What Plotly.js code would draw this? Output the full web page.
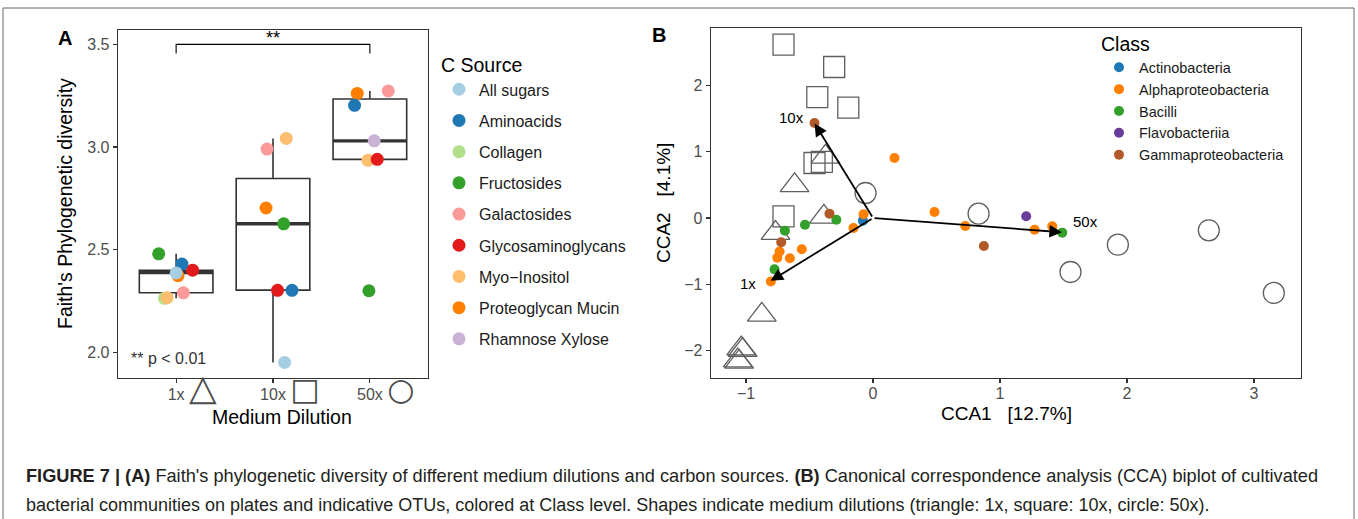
<!DOCTYPE html>
<html><head><meta charset="utf-8">
<script src="https://cdn.plot.ly/plotly-3.0.1.min.js"></script>
<style>html,body{margin:0;padding:0;background:#fff;} #chart{width:1358px;height:519px;}</style>
</head><body><div id="chart"></div>
<script>
const W = 1358, H = 519;

// ---------- Panel A data ----------
const dilutions = ['1x', '10x', '50x'];
const dilutionGlyphs = ['\u25B3', '\u25A1', '\u25CB'];
const cSources = ['All sugars', 'Aminoacids', 'Collagen', 'Fructosides', 'Galactosides',
  'Glycosaminoglycans', 'Myo\u2212Inositol', 'Proteoglycan Mucin', 'Rhamnose Xylose'];
const cSourceColors = ['#A6CEE3', '#1F78B4', '#B2DF8A', '#33A02C', '#FB9A99',
  '#E31A1C', '#FDBF6F', '#FF7F00', '#CAB2D6'];
// one entry per plate: dilution index, C source index, Faith's PD, horizontal jitter
const ptDilution = [0, 0, 0, 0, 0, 0, 0, 0, 1, 1, 1, 1, 1, 1, 1, 2, 2, 2, 2, 2, 2, 2];
const ptSource = [0, 1, 2, 3, 4, 5, 6, 7, 0, 1, 3, 4, 5, 6, 7, 1, 3, 4, 5, 6, 7, 8];
const ptDiversity = [2.387, 2.43, 2.263, 2.48, 2.29, 2.40, 2.266, 2.373,
  1.951, 2.302, 2.626, 2.99, 2.302, 3.042, 2.703,
  3.203, 2.30, 3.273, 2.940, 2.935, 3.261, 3.030];
const ptJitter = [0.00, 0.06, -0.12, -0.18, 0.075, 0.17, -0.093, 0.02,
  0.12, 0.196, 0.11, -0.062, 0.047, 0.137, -0.072,
  -0.158, -0.01, 0.19, 0.076, -0.02, -0.13, 0.045];
// box statistics per dilution
const boxQ1 = [2.290, 2.303, 2.940];
const boxMedian = [2.389, 2.626, 3.030];
const boxQ3 = [2.400, 2.847, 3.234];
const boxLower = [2.263, 1.951, 2.940];
const boxUpper = [2.480, 3.042, 3.273];
const signifPair = [0, 2];
const signifLabel = '**';

// ---------- Panel B data ----------
const classes = ['Actinobacteria', 'Alphaproteobacteria', 'Bacilli', 'Flavobacteriia', 'Gammaproteobacteria'];
const classColors = ['#1F78B4', '#FF7F00', '#33A02C', '#6A3D9A', '#B15928'];
const otuCCA1 = [-0.461, 0.169, 0.484, -0.343, -0.075, -0.289, -0.080, -0.154, -0.536, -0.694,
  -0.723, -0.561, -0.736, -0.754, -0.655, -0.776, -0.805, 0.726, 0.873, 1.206, 1.272, 1.411, 1.490];
const otuCCA2 = [1.436, 0.907, 0.091, 0.066, 0.056, -0.027, -0.040, -0.151, -0.103, -0.191,
  -0.367, -0.472, -0.505, -0.600, -0.609, -0.776, -0.960, -0.121, -0.423, 0.026, -0.176, -0.125, -0.221];
const otuClass = [4, 1, 1, 4, 1, 2, 0, 1, 2, 2, 4, 1, 1, 1, 1, 2, 1, 1, 4, 3, 1, 1, 2];

const siteCCA1 = [-0.618, -0.387, -0.375, -0.768, -0.876, -1.038, -1.027, -1.065, -1.054,
  -0.705, -0.306, -0.439, -0.195, -0.461, -0.403, -0.705,
  -0.059, 0.831, 1.928, 2.644, 1.555, 3.156];
const siteCCA2 = [0.493, 0.017, 0.925, -0.228, -1.465, -1.974, -1.995, -2.156, -2.176,
  2.621, 2.283, 1.829, 1.669, 0.832, 0.850, 0.026,
  0.378, 0.066, -0.403, -0.186, -0.816, -1.133];
const siteDilution = [0, 0, 0, 0, 0, 0, 0, 0, 0, 1, 1, 1, 1, 1, 1, 1, 2, 2, 2, 2, 2, 2];
const siteSymbols = ['triangle-up-open', 'square-open', 'circle-open'];
const siteSizes = [25, 21, 21];

const envNames = ['1x', '10x', '50x'];
const envCCA1 = [-0.807, -0.460, 1.488];
const envCCA2 = [-0.950, 1.430, -0.215];

// ---------- helpers ----------
const px = v => v / W;
const py = v => 1 - v / H;
const FONT = 'Liberation Sans, Arial, Helvetica, sans-serif';

const traces = [];

// Panel A boxes
traces.push({
  type: 'box', xaxis: 'x', yaxis: 'y', x: [0, 1, 2],
  q1: boxQ1, median: boxMedian, q3: boxQ3, lowerfence: boxLower, upperfence: boxUpper,
  width: 0.76, whiskerwidth: 0, boxpoints: false,
  line: {color: '#333333', width: 1.6}, fillcolor: 'rgba(255,255,255,0)',
  showlegend: false, hoverinfo: 'skip'
});
// thick median bars
const medX = [], medY = [];
boxMedian.forEach((m, i) => { medX.push(i - 0.38, i + 0.38, null); medY.push(m, m, null); });
traces.push({
  type: 'scatter', mode: 'lines', xaxis: 'x', yaxis: 'y', x: medX, y: medY,
  line: {color: '#333333', width: 3.4}, showlegend: false, hoverinfo: 'skip'
});

// Panel A points (drawing order chosen so overlaps look like the original)
const drawOrder = [2, 6, 5, 3, 4, 8, 7, 1, 0];
drawOrder.forEach(s => {
  const idx = ptSource.map((v, i) => v === s ? i : -1).filter(i => i >= 0);
  traces.push({
    type: 'scatter', mode: 'markers', xaxis: 'x', yaxis: 'y',
    x: idx.map(i => ptDilution[i] + ptJitter[i]),
    y: idx.map(i => ptDiversity[i]),
    name: cSources[s], legend: 'legend', legendgroup: 'src' + s, legendrank: s + 1,
    marker: {color: cSourceColors[s], size: 13}
  });
});

// Panel B sites
[0, 1, 2].forEach(d => {
  const idx = siteDilution.map((v, i) => v === d ? i : -1).filter(i => i >= 0);
  traces.push({
    type: 'scatter', mode: 'markers', xaxis: 'x2', yaxis: 'y2',
    x: idx.map(i => siteCCA1[i]), y: idx.map(i => siteCCA2[i]),
    marker: {symbol: siteSymbols[d], size: siteSizes[d], color: '#5f5f5f', line: {width: 1.3}},
    showlegend: false, hoverinfo: 'skip'
  });
});

// Panel B OTUs
classes.forEach((c, k) => {
  const idx = otuClass.map((v, i) => v === k ? i : -1).filter(i => i >= 0);
  traces.push({
    type: 'scatter', mode: 'markers', xaxis: 'x2', yaxis: 'y2',
    x: idx.map(i => otuCCA1[i]), y: idx.map(i => otuCCA2[i]),
    name: c, legend: 'legend2',
    marker: {color: classColors[k], size: 10}
  });
});

const mid = {xanchor: 'center', yanchor: 'middle', showarrow: false, xref: 'paper', yref: 'paper'};
const annotations = [];
// panel letters
annotations.push(Object.assign({}, mid, {x: px(65), y: py(38), text: '<b>A</b>',
  font: {size: 20, color: '#000', family: FONT}}));
annotations.push(Object.assign({}, mid, {x: px(659), y: py(35), text: '<b>B</b>',
  font: {size: 20, color: '#000', family: FONT}}));
// axis titles
annotations.push(Object.assign({}, mid, {x: px(282), y: py(417), text: 'Medium Dilution',
  font: {size: 19.5, color: '#000', family: FONT}}));
annotations.push(Object.assign({}, mid, {x: px(65), y: py(204), text: "Faith's Phylogenetic diversity",
  textangle: -90, font: {size: 19.5, color: '#000', family: FONT}}));
annotations.push(Object.assign({}, mid, {x: px(1006), y: py(413), text: 'CCA1\u00a0\u00a0\u00a0[12.7%]',
  font: {size: 19, color: '#000', family: FONT}}));
annotations.push(Object.assign({}, mid, {x: px(663), y: py(203), text: 'CCA2\u00a0\u00a0\u00a0[4.1%]', textangle: -90,
  font: {size: 19, color: '#000', family: FONT}}));
// significance
annotations.push({xref: 'x', yref: 'y', x: (signifPair[0] + signifPair[1]) / 2, y: 3.5, xanchor: 'center', yanchor: 'bottom',
  text: signifLabel, showarrow: false, yshift: -6, font: {size: 18, color: '#000', family: FONT}});
annotations.push(Object.assign({}, mid, {x: px(129), xanchor: 'left', y: py(358), text: '** p < 0.01',
  font: {size: 16, color: '#333', family: FONT}}));
// env arrows and labels
const envLabelStyle = [
  {xanchor: 'right', xshift: -13, yshift: -3},
  {xanchor: 'right', xshift: -9, yshift: 6},
  {xanchor: 'left', xshift: 9, yshift: 11}
];
envNames.forEach((n, i) => {
  annotations.push({xref: 'x2', yref: 'y2', axref: 'x2', ayref: 'y2', x: envCCA1[i], y: envCCA2[i], ax: 0, ay: 0,
    text: '', showarrow: true, arrowhead: 2, arrowsize: 1.4, arrowwidth: 1.8, arrowcolor: '#000', standoff: 0});
  annotations.push(Object.assign({xref: 'x2', yref: 'y2', x: envCCA1[i], y: envCCA2[i], text: n, showarrow: false,
    yanchor: 'middle', font: {size: 15, color: '#000', family: FONT}}, envLabelStyle[i]));
});
// caption
annotations.push(Object.assign({}, mid, {x: px(24), y: py(476), xanchor: 'left',
  text: '<b>FIGURE 7 | (A)</b> Faith\'s phylogenetic diversity of different medium dilutions and carbon sources. <b>(B)</b> Canonical correspondence analysis (CCA) biplot of cultivated',
  font: {size: 18.2, color: '#231f20', family: FONT}}));
annotations.push(Object.assign({}, mid, {x: px(24), y: py(505), xanchor: 'left',
  text: 'bacterial communities on plates and indicative OTUs, colored at Class level. Shapes indicate medium dilutions (triangle: 1x, square: 10x, circle: 50x).',
  font: {size: 18, color: '#231f20', family: FONT}}));

const shapes = [
  // significance bracket
  {type: 'path', xref: 'x', yref: 'y',
    path: `M ${signifPair[0]},3.455 V 3.5 H ${signifPair[1]} V 3.455`,
    line: {color: '#000', width: 1.1}},
  // figure frame
  {type: 'rect', xref: 'paper', yref: 'paper', x0: px(3), x1: px(1354), y0: -0.2, y1: py(8),
    line: {color: '#666', width: 1}, layer: 'below'}
];

const axisCommon = {
  showline: true, mirror: true, linecolor: '#333333', linewidth: 1.3,
  ticks: 'outside', ticklen: 4, tickwidth: 1.2, tickcolor: '#333333',
  showgrid: false, zeroline: false, fixedrange: true,
  tickfont: {size: 16, color: '#4d4d4d', family: FONT}
};

const glyphSizes = [36, 31, 31];
const tickLabelsA = dilutions.map((d, i) => {
  const g = '<span style="font-size:' + glyphSizes[i] + 'px;font-family:DejaVu Sans">' + dilutionGlyphs[i] + '</span>';
  const ghost = '<span style="font-size:' + glyphSizes[i] + 'px;font-family:DejaVu Sans;color:rgba(0,0,0,0)">' + dilutionGlyphs[i] + '</span>';
  return ghost + ' ' + d + ' ' + g;
});

const layout = {
  width: W, height: H, margin: {l: 0, r: 0, t: 0, b: 0},
  paper_bgcolor: '#fff', plot_bgcolor: '#fff',
  font: {family: FONT},
  xaxis: Object.assign({}, axisCommon, {
    domain: [px(118), px(428)], anchor: 'y', range: [-0.6, 2.6],
    tickvals: [0, 1, 2], ticktext: tickLabelsA, ticklabelstandoff: -3
  }),
  yaxis: Object.assign({}, axisCommon, {
    domain: [py(378), py(30)], anchor: 'x', range: [1.875, 3.57], dtick: 0.5, tick0: 0, tickformat: '.1f'
  }),
  xaxis2: Object.assign({}, axisCommon, {
    domain: [px(711), px(1301)], anchor: 'y2', range: [-1.276, 3.37], dtick: 1, tick0: 0, ticklabelstandoff: -3
  }),
  yaxis2: Object.assign({}, axisCommon, {
    domain: [py(377.7), py(28.3)], anchor: 'x2', range: [-2.414, 2.868], dtick: 1, tick0: 0
  }),
  legend: {
    x: px(439), xanchor: 'left', y: py(47), yanchor: 'top',
    bgcolor: 'rgba(0,0,0,0)', traceorder: 'grouped', tracegroupgap: 7.4,
    font: {size: 16, color: '#1a1a1a', family: FONT},
    title: {text: 'C Source', font: {size: 19.5, color: '#000', family: FONT}}
  },
  legend2: {
    x: px(1099), xanchor: 'left', y: py(26), yanchor: 'top',
    bgcolor: 'rgba(0,0,0,0)',
    font: {size: 14.5, color: '#1a1a1a', family: FONT},
    title: {text: 'Class', font: {size: 19.5, color: '#000', family: FONT}}
  },
  annotations: annotations,
  shapes: shapes,
  hovermode: false
};

Plotly.newPlot('chart', traces, layout, {staticPlot: true, displayModeBar: false});
</script>
</body></html>
